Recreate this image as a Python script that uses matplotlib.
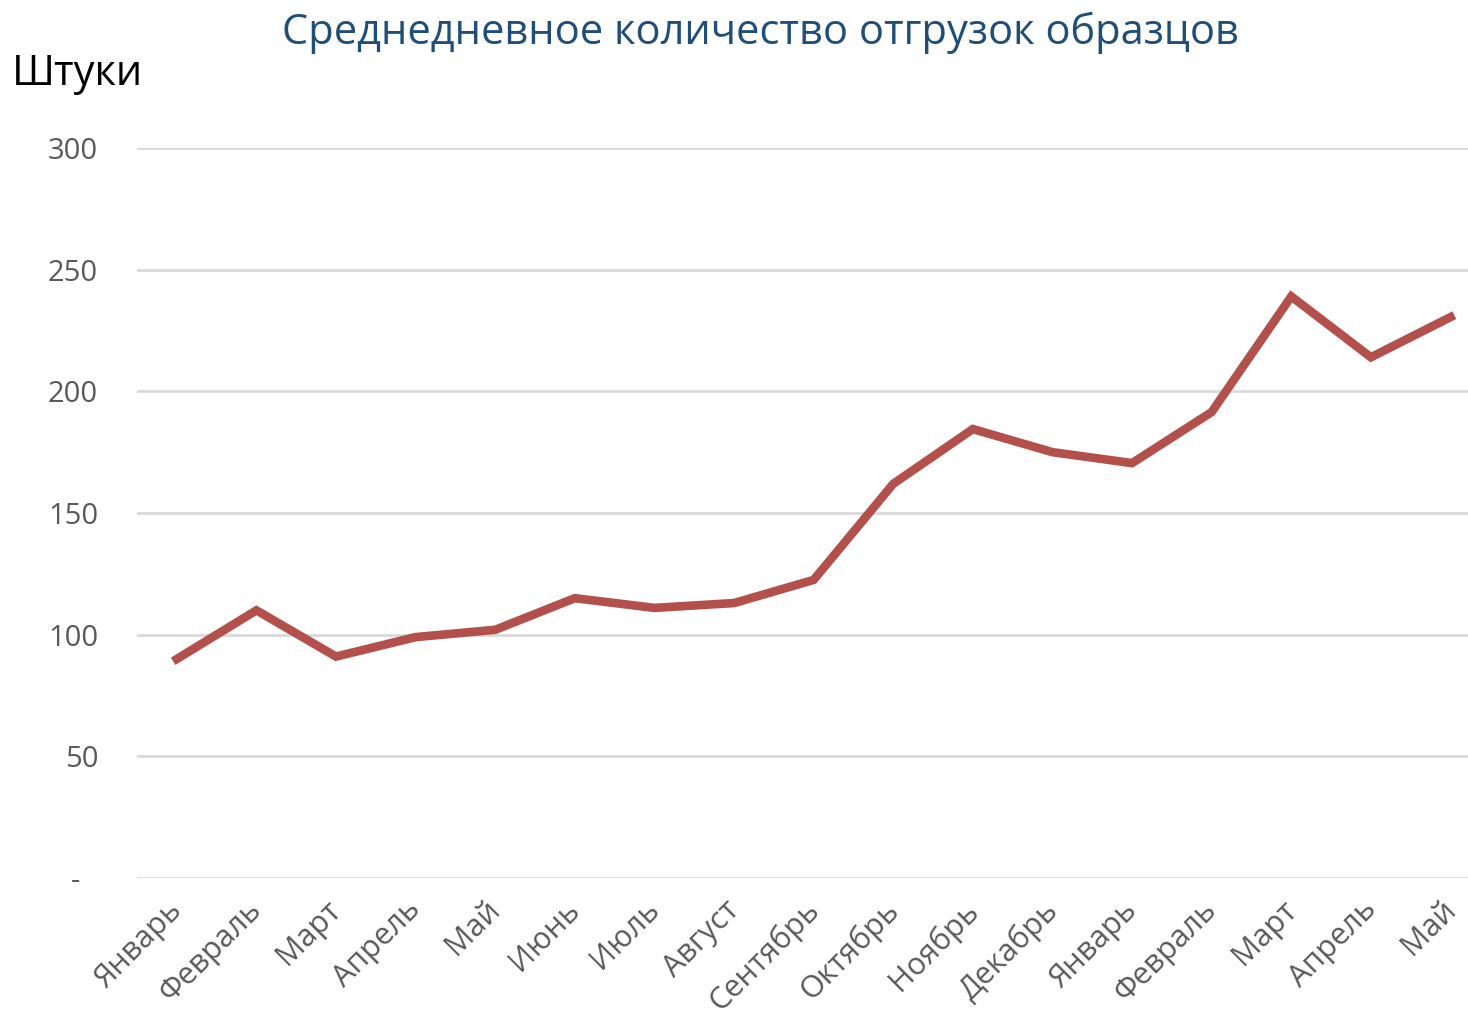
import matplotlib
matplotlib.use('Agg')
import matplotlib.pyplot as plt
from matplotlib.transforms import ScaledTranslation

# данные
months = ['Январь', 'Февраль', 'Март', 'Апрель', 'Май', 'Июнь', 'Июль', 'Август',
          'Сентябрь', 'Октябрь', 'Ноябрь', 'Декабрь', 'Январь', 'Февраль', 'Март',
          'Апрель', 'Май']
shipments = [90, 110, 91, 99, 102, 115, 111, 113, 122.5, 162, 184.5, 175, 170.5,
             191.5, 239, 214, 230.5]
yticks = [0, 50, 100, 150, 200, 250, 300]
ytick_labels = ['-', '50', '100', '150', '200', '250', '300']

plt.rcParams['font.family'] = ['Open Sans', 'DejaVu Sans']

fig = plt.figure(figsize=(14.68, 10.22), dpi=100)
ax = fig.add_axes([137 / 1468, 144 / 1022, 1 - 137 / 1468, (878 - 148) / 1022])

x = list(range(len(months)))
ax.plot(x, shipments, color='#B4504B', linewidth=6.2, solid_joinstyle='miter', zorder=3)

ax.set_ylim(0, 300)
ax.set_xlim(-0.5, 16.22)
ax.set_yticks(yticks)
ax.set_yticklabels(ytick_labels)
ax.set_xticks(x)
ax.set_xticklabels(months, rotation=45, ha='right', rotation_mode='anchor')

ax.grid(axis='y', color='#D9D9D9', linewidth=2)
ax.set_axisbelow(True)
for s in ax.spines.values():
    s.set_visible(False)
ax.tick_params(axis='both', length=0, colors='#595959')
ax.tick_params(axis='y', pad=28, labelsize=21)
ax.tick_params(axis='x', pad=12, labelsize=22)

# подписи месяцев чуть левее, как в Excel
shift = ScaledTranslation(-10 / 100, 0, fig.dpi_scale_trans)
for lbl in ax.get_xticklabels():
    lbl.set_transform(lbl.get_transform() + shift)
# прочерк для нуля стоит левее чисел
zero_shift = ScaledTranslation(-18 / 100, 0, fig.dpi_scale_trans)
ylbl0 = ax.get_yticklabels()[0]
ylbl0.set_transform(ylbl0.get_transform() + zero_shift)

fig.text(0.518, 0.968, 'Среднедневное количество отгрузок образцов', ha='center', va='center',
         fontsize=30, color='#1F4E79')
fig.text(0.008, 0.928, 'Штуки', ha='left', va='center', fontsize=30, color='black')

fig.savefig('out.png', dpi=100)
